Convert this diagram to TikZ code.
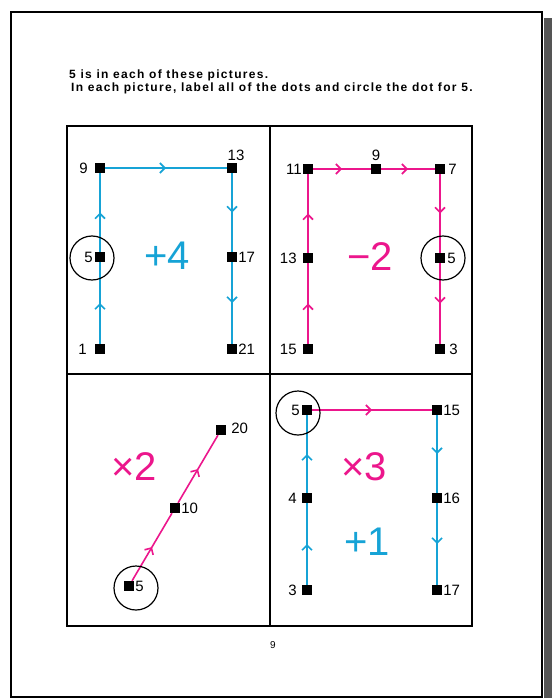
\documentclass[tikz,border=0pt]{standalone}
\usepackage{fontspec}
\setmainfont{Liberation Sans}
\usetikzlibrary{arrows.meta, positioning, decorations.markings}
\definecolor{lineblue}{RGB}{22,163,214}
\definecolor{linepink}{RGB}{236,22,140}
\definecolor{shadowgray}{RGB}{85,85,85}

\tikzset{
  dot/.style={rectangle, fill=black, minimum size=10pt, inner sep=0pt},
  numlbl/.style={inner sep=0pt, font=\fontsize{15}{15}\selectfont},
  bigop/.style={inner sep=0pt, font=\fontsize{40}{40}\selectfont},
  ring/.style={circle, draw, line width=1.2pt, minimum size=44pt, inner sep=0pt},
  midarrow/.style={postaction={decorate}, decoration={markings, mark=at position 0.5 with {\arrow{Straight Barb[length=5pt, width=10pt]}}}},
  blueline/.style={draw=lineblue, line width=1.6pt, midarrow},
  pinkline/.style={draw=linepink, line width=1.6pt, midarrow},
  header/.style={anchor=west, inner sep=0pt, font=\fontsize{12}{12}\selectfont\bfseries\addfontfeatures{LetterSpace=11}}
}

\begin{document}
\begin{tikzpicture}[x=1pt, y=-1pt]
\useasboundingbox (0,0) rectangle (552,698);
\fill[white] (0,0) rectangle (552,698);
\fill[shadowgray] (543.5,18) rectangle (552,698);
\draw[line width=1.6pt] (11,12) rectangle (542,697);

\node[header] (head1) at (69,75) {5 is in each of these pictures.};
\node[header] (head2) at (71,88) {In each picture, label all of the dots and circle the dot for 5.};

\draw[line width=1.6pt] (67,126) rectangle (472,626);
\draw[line width=1.6pt] (270,126) -- (270,626);
\draw[line width=1.6pt] (67,374) -- (472,374);

\node[dot] (tl1) at (100,349) {};
\node[dot] (tl5) at (100,257) {};
\node[dot] (tl9) at (100,168) {};
\node[dot] (tl13) at (232,168) {};
\node[dot] (tl17) at (232,257) {};
\node[dot] (tl21) at (232,349) {};
\draw[blueline] (tl1) -- (tl5);
\draw[blueline] (tl5) -- (tl9);
\draw[blueline] (tl9) -- (tl13);
\draw[blueline] (tl13) -- (tl17);
\draw[blueline] (tl17) -- (tl21);
\node[numlbl, left=8pt of tl1] (tl1l) {1};
\node[numlbl, left=2pt of tl5] (tl5l) {5};
\node[numlbl, left=7pt of tl9] (tl9l) {9};
\node[numlbl, above=2pt of tl13, xshift=4pt] (tl13l) {13};
\node[numlbl, right=1pt of tl17] (tl17l) {17};
\node[numlbl, right=1pt of tl21] (tl21l) {21};
\node[ring] (tlring) at (92,258) {};
\node[bigop, text=lineblue] (tlop) at (167,256) {+4};

\node[dot] (tr15) at (308,349) {};
\node[dot] (tr13) at (308,258) {};
\node[dot] (tr11) at (308,169) {};
\node[dot] (tr9) at (376,169) {};
\node[dot] (tr7) at (440,169) {};
\node[dot] (tr5) at (440,258) {};
\node[dot] (tr3) at (440,349) {};
\draw[pinkline] (tr15) -- (tr13);
\draw[pinkline] (tr13) -- (tr11);
\draw[pinkline] (tr11) -- (tr9);
\draw[pinkline] (tr9) -- (tr7);
\draw[pinkline] (tr7) -- (tr5);
\draw[pinkline] (tr5) -- (tr3);
\node[numlbl, left=6pt of tr15] (tr15l) {15};
\node[numlbl, left=6pt of tr13] (tr13l) {13};
\node[numlbl, left=1pt of tr11] (tr11l) {11};
\node[numlbl, above=3pt of tr9] (tr9l) {9};
\node[numlbl, right=3pt of tr7] (tr7l) {7};
\node[numlbl, right=2pt of tr5] (tr5l) {5};
\node[numlbl, right=4pt of tr3] (tr3l) {3};
\node[ring] (trring) at (443,258) {};
\node[bigop, text=linepink] (trop) at (370,257) {−2};

\node[dot] (bl5) at (129,586) {};
\node[dot] (bl10) at (175,508) {};
\node[dot] (bl20) at (221,430) {};
\draw[pinkline] (bl5) -- (bl10);
\draw[pinkline] (bl10) -- (bl20);
\node[numlbl, right=1pt of bl5] (bl5l) {5};
\node[numlbl, right=1pt of bl10] (bl10l) {10};
\node[numlbl, right=5pt of bl20, yshift=2pt] (bl20l) {20};
\node[ring] (blring) at (136,588) {};
\node[bigop, text=linepink] (blop) at (134,467) {×2};

\node[dot] (br3) at (307,590) {};
\node[dot] (br4) at (307,498) {};
\node[dot] (br5) at (307,410) {};
\node[dot] (br15) at (437,410) {};
\node[dot] (br16) at (437,498) {};
\node[dot] (br17) at (437,590) {};
\draw[blueline] (br3) -- (br4);
\draw[blueline] (br4) -- (br5);
\draw[pinkline] (br5) -- (br15);
\draw[blueline] (br15) -- (br16);
\draw[blueline] (br16) -- (br17);
\node[numlbl, left=5pt of br3] (br3l) {3};
\node[numlbl, left=5pt of br4] (br4l) {4};
\node[numlbl, left=2pt of br5] (br5l) {5};
\node[numlbl, right=1pt of br15] (br15l) {15};
\node[numlbl, right=1pt of br16] (br16l) {16};
\node[numlbl, right=1pt of br17] (br17l) {17};
\node[ring] (brring) at (298,413) {};
\node[bigop, text=linepink] (brop1) at (364,467) {×3};
\node[bigop, text=lineblue] (brop2) at (367,542) {+1};

\node[inner sep=0pt, font=\fontsize{10}{10}\selectfont] (pagenum) at (273,645) {9};
\end{tikzpicture}
\end{document}
